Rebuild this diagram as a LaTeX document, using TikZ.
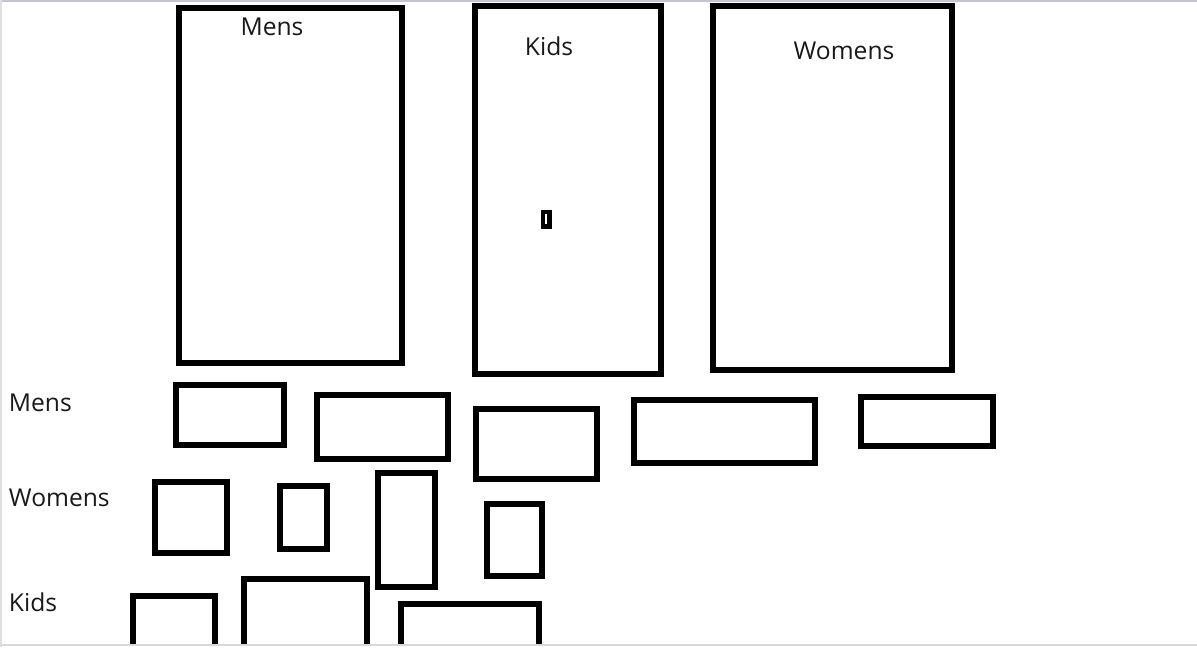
\documentclass[tikz,border=0pt]{standalone}
\usepackage{fontspec}
\setmainfont{Open Sans}
\tikzset{box/.style={line width=4pt,black},
  lbl/.style={font=\fontsize{17.5}{20}\selectfont,text=black!90}}

\begin{document}
\begin{tikzpicture}[x=0.025cm,y=-0.025cm]
\useasboundingbox (0,0) rectangle (1197,647);
\fill[white] (0,0) rectangle (1197,647);
\draw[line width=1.8pt,blue!15!gray!40] (0,1) -- (1197,1);
\draw[line width=1pt,gray!25] (1,0) -- (1,647);
\draw[line width=1.4pt,gray!30] (0,645) -- (1197,645);
% big boxes
\draw[box] (179,8) rectangle (402,363);
\draw[box] (475,6) rectangle (661,374);
\draw[box] (713,6) rectangle (952,370);
\draw (272,27) node[lbl] (mensT) {Mens};
\draw (549,46) node[lbl] (kidsT) {Kids};
\draw (844,51) node[lbl] (womensT) {Womens};
\fill (541,210) rectangle (552,229);
\draw[white,line width=1pt] (546,214) -- (546,224);
% row labels
\draw (4,403) node[lbl,anchor=west] (mensL) {Mens};
\draw (4,498) node[lbl,anchor=west] (womensL) {Womens};
\draw (4,602) node[lbl,anchor=west] (kidsL) {Kids};
% mens row
\draw[box] (176,385) rectangle (284,445);
\draw[box] (317,395) rectangle (448,459);
\draw[box] (476,409) rectangle (597,479);
\draw[box] (634,400) rectangle (815,463);
\draw[box] (861,397) rectangle (993,446);
% womens row
\draw[box] (155,482) rectangle (227,553);
\draw[box] (280,486) rectangle (327,549);
\draw[box] (378,473) rectangle (435,587);
\draw[box] (487,504) rectangle (542,576);
% kids row
\begin{scope}
\clip (0,0) rectangle (1197,643);
\draw[box] (133,596) rectangle (215,700);
\draw[box] (244,579) rectangle (367,700);
\draw[box] (401,604) rectangle (539,700);
\end{scope}
\end{tikzpicture}
\end{document}
